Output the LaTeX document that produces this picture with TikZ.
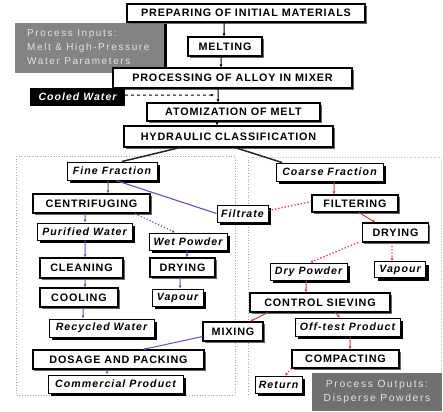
\documentclass[tikz,border=0pt]{standalone}
\usepackage{fontspec}
\setmainfont{Liberation Sans}[LetterSpace=8]
\newfontfamily\widefont{Liberation Sans}[LetterSpace=16]
\newfontfamily\itfont{Liberation Sans}[LetterSpace=10]
\usetikzlibrary{arrows.meta,shadows,calc}
\definecolor{pur}{HTML}{6A4FC0}
\definecolor{rd}{HTML}{E03A3A}
\definecolor{inbox}{HTML}{838383}
\definecolor{outbox}{HTML}{707070}
\definecolor{boxtxt}{HTML}{E2E2E2}
\tikzset{
 sz/.style 2 args={minimum width=#1bp, minimum height=#2bp},
 procbox/.style={draw=black, line width=1.1bp, fill=white, inner sep=0pt,
   font=\fontsize{10.8bp}{12bp}\selectfont\bfseries,
   drop shadow={shadow xshift=1.5bp, shadow yshift=-1.5bp, fill=black!60, opacity=1}},
 prodbox/.style={draw=black, line width=1bp, fill=white, inner sep=0pt,
   font=\itfont\fontsize{10.6bp}{12bp}\selectfont\bfseries\itshape,
   drop shadow={shadow xshift=3bp, shadow yshift=-3bp, fill=black, opacity=1}},
 tip/.style={-{Latex[length=3bp,width=3bp]}},
 blk/.style={draw=black, line width=1bp, tip},
 hline/.style={draw=black!85, line width=1.5bp},
 pl/.style={draw=pur, line width=1bp, tip},
 pld/.style={draw=pur, line width=1.2bp, dotted, tip},
 rl/.style={draw=rd, line width=1bp, tip},
 rld/.style={draw=rd, line width=1.3bp, dotted, tip},
}
\begin{document}
\begin{tikzpicture}[x=1bp,y=-1bp]
\useasboundingbox (0,0) rectangle (443,411);
\fill[white] (0,0) rectangle (443,411);
% region frames
\draw[black!35, dotted, line width=0.7bp] (16,156) rectangle (235,395);
\draw[rd!45, dotted, line width=0.7bp] (248,157) -- (441,157) -- (441,395);
\draw[black!35, dotted, line width=0.7bp] (248,157) -- (248,395);
% inputs box
\node[fill=inbox, sz={150}{50}, inner sep=0pt] (inp) at (90,48) {};
\draw[line width=3bp] (inp.north east) -- (inp.south east);
\node[anchor=west, align=left, inner sep=0pt, text=boxtxt,
      font=\widefont\fontsize{10bp}{14bp}\selectfont] (inptxt) at (27,47)
      {Process Inputs:\\Melt \& High-Pressure\\Water Parameters};
% top chain
\node[procbox, sz={238}{18}] (prep) at (246,13) {PREPARING OF INITIAL MATERIALS};
\node[procbox, sz={74}{19}] (melt) at (225,46.5) {MELTING};
\node[procbox, sz={239}{20}] (proc) at (232.5,78) {PROCESSING OF ALLOY IN MIXER};
\node[fill=black, sz={95}{18}, inner sep=0pt, text=white,
      font=\itfont\fontsize{10.5bp}{12bp}\selectfont\bfseries\itshape] (cooled) at (77.5,97) {Cooled Water};
\node[procbox, sz={173}{18}] (atom) at (233.5,112) {ATOMIZATION OF MELT};
\node[procbox, sz={209}{21}] (hyd) at (228.5,136.5) {HYDRAULIC CLASSIFICATION};
\coordinate (cw) at (214,95);
% left section
\node[prodbox, sz={90}{18}] (fine) at (112,171) {Fine Fraction};
\node[procbox, sz={117}{19}] (cent) at (91.5,203.5) {CENTRIFUGING};
\node[prodbox, sz={51}{17}] (filt) at (242.5,213.5) {Filtrate};
\node[prodbox, sz={95}{17}] (pur) at (84.5,231.5) {Purified Water};
\node[prodbox, sz={78}{17}] (wet) at (188,241.5) {Wet Powder};
\node[procbox, sz={83}{20}] (clean) at (81.5,268) {CLEANING};
\node[procbox, sz={65}{19}] (dryA) at (182.5,267.5) {DRYING};
\node[procbox, sz={78}{19}] (cool) at (79,297.5) {COOLING};
\node[prodbox, sz={51}{17}] (vapA) at (177.5,297.5) {Vapour};
\node[prodbox, sz={105}{18}] (rec) at (101.5,328) {Recycled Water};
\node[procbox, sz={60}{19}] (mix) at (233,331.5) {MIXING};
\node[procbox, sz={171}{19}] (dos) at (118.5,359.5) {DOSAGE AND PACKING};
\node[prodbox, sz={135}{18}] (com) at (115.5,384) {Commercial Product};
% right section
\node[prodbox, sz={107}{18}] (coarse) at (329.5,172) {Coarse Fraction};
\node[procbox, sz={86}{17}] (filtering) at (355,203.5) {FILTERING};
\node[procbox, sz={66}{19}] (dryB) at (395.5,232.5) {DRYING};
\node[prodbox, sz={77}{17}] (drypow) at (308.5,271.5) {Dry Powder};
\node[prodbox, sz={51}{16}] (vapB) at (400,269.5) {Vapour};
\node[procbox, sz={140}{19}] (ctrl) at (320,302.5) {CONTROL SIEVING};
\node[prodbox, sz={105}{18}] (off) at (347.5,327) {Off-test Product};
\node[procbox, sz={107}{18}] (comp) at (345.5,359) {COMPACTING};
\node[prodbox, sz={47}{17}] (ret) at (278.5,384.5) {Return};
\node[fill=outbox, sz={130}{38}, inner sep=0pt, align=center, text=boxtxt,
      font=\widefont\fontsize{10.3bp}{14bp}\selectfont] (outp) at (377,392)
      {Process Outputs:\\Disperse Powders};
% top connectors
\draw[blk] ([xshift=-22bp]prep.south) -- ([xshift=-1bp]melt.north);
\draw[blk] ([xshift=-4bp]melt.south) -- ([xshift=-11.5bp]proc.north);
\draw[blk] ([xshift=-14.5bp]proc.south) -- ([xshift=-15.5bp]atom.north);
\draw[blk] ([xshift=-16.5bp]atom.south) -- ([xshift=-11.5bp]hyd.north);
\draw[black, line width=1bp, dashed, tip] ([yshift=2bp]cooled.east) -- (cw);
\draw[hline] ([xshift=-48.5bp]hyd.south) -- ([xshift=10bp]fine.north);
\draw[hline] ([xshift=6.5bp]hyd.south) -- ([xshift=-47.5bp]coarse.north);
% left connectors
\draw[pl] ([xshift=-4bp]fine.south) -- ([xshift=16.5bp]cent.north);
\draw[draw=pur, line width=1.1bp] ([xshift=4bp]fine.south) -- (filt.west);
\draw[pl] ([xshift=-6.5bp]cent.south) -- ([xshift=0.5bp]pur.north);
\draw[pld] ([xshift=43.5bp]cent.south) -- ([xshift=-13bp]wet.north);
\draw[pl] ([xshift=0.5bp]pur.south) -- ([xshift=3.5bp]clean.north);
\draw[pl] ([xshift=-1bp]wet.south) -- ([xshift=4.5bp]dryA.north);
\draw[pl] ([xshift=3.5bp]clean.south) -- ([xshift=6bp]cool.north);
\draw[pl] ([xshift=-2.5bp]dryA.south) -- ([xshift=2.5bp]vapA.north);
\draw[pl] ([xshift=4bp]cool.south) -- ([xshift=-18.5bp]rec.north);
\draw[pl] ([yshift=-5bp]mix.west) -- ([xshift=24.5bp]dos.north);
\draw[pl] ([xshift=-11.5bp]dos.south) -- ([xshift=-8.5bp]com.north);
% right connectors
\draw[rl] ([xshift=4.5bp]coarse.south) -- ([xshift=-21bp]filtering.north);
\draw[draw=rd, line width=1.3bp, dotted] ([yshift=3bp]filt.east) -- ([yshift=2bp]filtering.west);
\draw[rl] ([xshift=4bp]filtering.south) -- ([xshift=-20bp]dryB.north);
\draw[rld] ([xshift=-37.5bp]dryB.south) -- ([xshift=1.5bp]drypow.north);
\draw[rld] ([xshift=-3.5bp]dryB.south) -- ([xshift=-8bp]vapB.north);
\draw[rl] ([xshift=-2.5bp]drypow.south) -- ([xshift=-14bp]ctrl.north);
\draw[rl] ([xshift=-52bp]ctrl.south) -- ([xshift=17bp]mix.north);
\draw[rl] ([xshift=15bp]ctrl.south) -- ([xshift=-7.5bp]off.north);
\draw[rl] ([xshift=2.5bp]off.south) -- ([xshift=4.5bp]comp.north);
\draw[rld] (comp.south west) -- ([xshift=6.5bp]ret.north);
\end{tikzpicture}
\end{document}
